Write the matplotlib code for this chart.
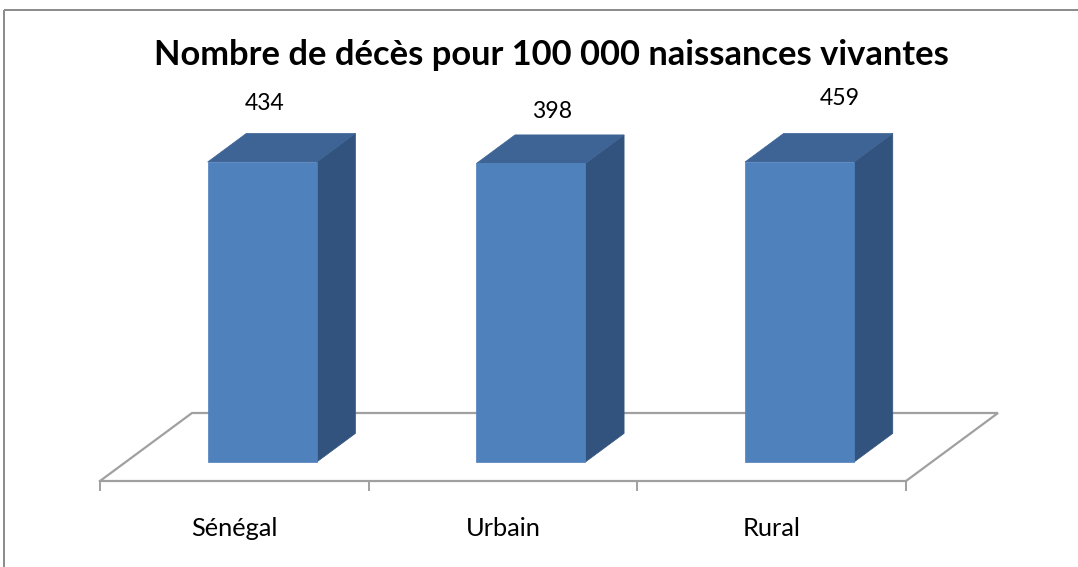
import matplotlib
matplotlib.use('Agg')
import matplotlib.pyplot as plt
from matplotlib.patches import Polygon, Rectangle
from matplotlib.font_manager import FontProperties
from matplotlib.textpath import TextPath

# ---- data ----
categories = ['Sénégal', 'Urbain', 'Rural']
values = [434, 398, 459]
title = 'Nombre de décès pour 100 000 naissances vivantes'
value_axis_max = 400   # bars are clipped at the axis maximum

# ---- figure ----
W, H = 1078, 567
fig = plt.figure(figsize=(W / 100, H / 100), dpi=100)
ax = fig.add_axes([0, 0, 1, 1])
ax.set_xlim(0, W)
ax.set_ylim(H, 0)
ax.axis('off')

FAMILY = 'Lato'


def fit_size(text, target_px, weight='normal'):
    fp = FontProperties(family=FAMILY, weight=weight)
    tp = TextPath((0, 0), text, size=1, prop=fp)
    w = tp.get_extents().width
    return target_px / w * 72 / 100


# outer chart frame (right and bottom lie beyond the image)
ax.add_patch(Rectangle((4, 10), 1100, 600, fill=False, ec='#8a8a8a', lw=1.4,
                       clip_on=False))

# ---- 3D projection geometry ----
floor_x0, floor_x1, floor_y = 100, 906, 481
depth = (92, -68)
n = len(categories)
slot = (floor_x1 - floor_x0) / n
d_front, d_back = 0.28, 0.70
bar_start, bar_w = 0.305, 0.406
bar_height_px = 300


def proj(x, d, h):
    """x along floor front, d depth fraction, h height in px"""
    return (x + depth[0] * d, floor_y + depth[1] * d - h)


floor_col = '#a0a0a0'
bl = proj(floor_x0, 1, 0)
br = proj(floor_x1, 1, 0)
fl = proj(floor_x0, 0, 0)
fr = proj(floor_x1, 0, 0)
ax.plot([fl[0], bl[0], br[0], fr[0]], [fl[1], bl[1], br[1], fr[1]],
        color=floor_col, lw=1.6, solid_joinstyle='miter', zorder=1)
ax.plot([fl[0], fr[0]], [fl[1], fr[1]], color=floor_col, lw=1.6, zorder=1)
for i in range(n + 1):
    x = floor_x0 + i * slot
    ax.plot([x, x], [floor_y, floor_y + 9], color=floor_col, lw=1.4, zorder=1)

front_c, top_c, side_c = '#4f81bd', '#3d6495', '#31537d'

lab_size = fit_size('Sénégal', 84)
num_size = fit_size('434', 39)

for i, (cat, v) in enumerate(zip(categories, values)):
    xl = floor_x0 + i * slot + bar_start * slot
    xr = xl + bar_w * slot
    h = min(v, value_axis_max) / value_axis_max * bar_height_px
    front = [proj(xl, d_front, 0), proj(xr, d_front, 0),
             proj(xr, d_front, h), proj(xl, d_front, h)]
    side = [proj(xr, d_front, 0), proj(xr, d_back, 0),
            proj(xr, d_back, h), proj(xr, d_front, h)]
    top = [proj(xl, d_front, h), proj(xr, d_front, h),
           proj(xr, d_back, h), proj(xl, d_back, h)]
    ax.add_patch(Polygon(side, closed=True, fc=side_c, ec=side_c, lw=0.5, zorder=3))
    ax.add_patch(Polygon(top, closed=True, fc=top_c, ec=top_c, lw=0.5, zorder=3))
    ax.add_patch(Polygon(front, closed=True, fc=front_c, ec=front_c, lw=0.5, zorder=4))

    # value label (perspective placement at the value height)
    fc_x = proj((xl + xr) / 2, d_front, 0)[0]
    lx = 1.07 * fc_x - 16.1
    ly = 197.97 - 0.2176 * v
    ax.text(lx, ly, f'{v}', ha='center', va='center', fontsize=num_size,
            family=FAMILY, color='black', zorder=5)

    # category label
    cx = floor_x0 + (i + 0.5) * slot
    ax.text(cx, 528, cat, ha='center', va='center', fontsize=lab_size,
            family=FAMILY, color='black')

# title
ax.text(551, 55, title, ha='center', va='center', weight='bold',
        fontsize=fit_size(title, 792, 'bold'), family=FAMILY, color='black')

fig.savefig('out.png', dpi=100, facecolor='white')
